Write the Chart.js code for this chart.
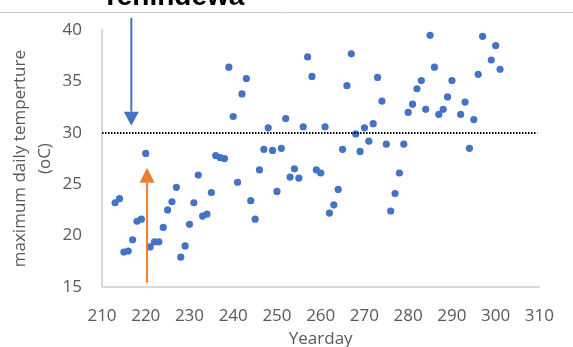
<!DOCTYPE html>
<html>
<head>
<meta charset="utf-8">
<script src="https://cdn.jsdelivr.net/npm/chart.js@4.4.1/dist/chart.umd.min.js"></script>
<style>
  html, body { margin: 0; padding: 0; background: #fff; }
  #wrap { width: 573px; height: 347px; position: relative; }
</style>
</head>
<body>
<div id="wrap"><canvas id="myChart"></canvas></div>
<script>
// DATOS: dia del año y temperatura maxima diaria
const yeardays = [213, 214, 215, 216, 217, 218, 219, 220, 221, 222,
                  223, 224, 225, 226, 227, 228, 229, 230, 231, 232,
                  233, 234, 235, 236, 237, 238, 239, 240, 241, 242,
                  243, 244, 245, 246, 247, 248, 249, 250, 251, 252,
                  253, 254, 255, 256, 257, 258, 259, 260, 261, 262,
                  263, 264, 265, 266, 267, 268, 269, 270, 271, 272,
                  273, 274, 275, 276, 277, 278, 279, 280, 281, 282,
                  283, 284, 285, 286, 287, 288, 289, 290, 292, 293,
                  294, 295, 296, 297, 299, 300, 301];
const maxTemps = [23.2, 23.6, 18.4, 18.5, 19.6, 21.4, 21.6, 28.0, 18.9, 19.4,
                  19.4, 20.8, 22.5, 23.3, 24.7, 17.9, 19.0, 21.1, 23.2, 25.9,
                  21.9, 22.1, 24.2, 27.8, 27.6, 27.5, 36.4, 31.6, 25.2, 33.8,
                  35.3, 23.4, 21.6, 26.4, 28.4, 30.5, 28.3, 24.3, 28.5, 31.4,
                  25.7, 26.5, 25.6, 30.6, 37.4, 35.5, 26.4, 26.1, 30.6, 22.2,
                  23.0, 24.5, 28.4, 34.6, 37.7, 29.9, 28.2, 30.5, 29.2, 30.9,
                  35.4, 33.1, 28.9, 22.4, 24.1, 26.1, 28.9, 32.0, 32.8, 34.3,
                  35.1, 32.3, 39.5, 36.4, 31.8, 32.3, 33.5, 35.1, 31.8, 33.0,
                  28.5, 31.3, 35.7, 39.4, 37.1, 38.5, 36.2];

// TICKS DE LOS EJES
const xTickValues = [210, 220, 230, 240, 250, 260, 270, 280, 290, 300, 310];
const yTickValues = [15, 20, 25, 30, 35, 40];

// LINEA PUNTEADA DE 30 GRADOS
const thresholdDays = [210, 309.5];
const thresholdTemp = 30;

// FLECHAS (dia, desde, hasta) en unidades del grafico
const blueArrow = [216.7, 41.2, 30.7];
const orangeArrow = [220.3, 15.4, 26.6];

const points = yeardays.map((d, i) => ({ x: d, y: maxTemps[i] }));
const thresholdPoints = thresholdDays.map(d => ({ x: d, y: thresholdTemp }));

function drawArrow(ctx, x, y0, y1, color, headW, headL) {
    const dir = Math.sign(y1 - y0);
    ctx.strokeStyle = color;
    ctx.fillStyle = color;
    ctx.lineWidth = 2;
    ctx.beginPath();
    ctx.moveTo(x, y0);
    ctx.lineTo(x, y1 - dir * headL);
    ctx.stroke();
    ctx.beginPath();
    ctx.moveTo(x, y1);
    ctx.lineTo(x - headW / 2, y1 - dir * headL);
    ctx.lineTo(x + headW / 2, y1 - dir * headL);
    ctx.closePath();
    ctx.fill();
}

// PLUGIN PARA TITULO CORTADO, LINEA SUPERIOR Y FLECHAS
const extras = {
    id: 'extras',
    afterDraw(chart) {
        const ctx = chart.ctx;
        const x = chart.scales.x, y = chart.scales.y;
        ctx.save();
        ctx.fillStyle = '#000';
        ctx.font = 'bold 28px "Liberation Sans", Arial, sans-serif';
        ctx.textAlign = 'center';
        ctx.textBaseline = 'alphabetic';
        ctx.fillText('Tenindewa', 173, 5);

        ctx.strokeStyle = '#c9c9c9';
        ctx.lineWidth = 1;
        ctx.beginPath();
        ctx.moveTo(0, 12.5);
        ctx.lineTo(573, 12.5);
        ctx.stroke();

        drawArrow(ctx, x.getPixelForValue(blueArrow[0]), y.getPixelForValue(blueArrow[1]),
                  y.getPixelForValue(blueArrow[2]), '#4472C4', 15, 14);
        drawArrow(ctx, x.getPixelForValue(orangeArrow[0]), y.getPixelForValue(orangeArrow[1]),
                  y.getPixelForValue(orangeArrow[2]), '#ED7D31', 15, 15);
        ctx.restore();
    }
};

const ctx = document.getElementById('myChart').getContext('2d');
new Chart(ctx, {
    type: 'scatter',
    data: {
        datasets: [{
            data: thresholdPoints,
            showLine: true,
            borderColor: '#000',
            borderWidth: 2,
            borderDash: [1.5, 1.5],
            pointRadius: 0,
            order: 0
        }, {
            data: points,
            backgroundColor: '#4472C4',
            borderColor: '#4472C4',
            borderWidth: 0,
            pointRadius: 3.6,
            order: 1
        }]
    },
    options: {
        responsive: true,
        maintainAspectRatio: false,
        animation: false,
        layout: { padding: { left: 0, right: 20, top: 25, bottom: 0 } },
        plugins: {
            legend: { display: false },
            tooltip: { enabled: false }
        },
        scales: {
            x: {
                type: 'linear',
                min: 210,
                max: 310,
                afterBuildTicks: s => { s.ticks = xTickValues.map(v => ({ value: v })); },
                afterFit: s => { s.height = 60; },
                grid: { display: false, drawTicks: false },
                border: { display: true, color: '#d9d9d9', width: 2 },
                ticks: {
                    color: '#595959',
                    padding: 19,
                    font: { family: '"Open Sans"', size: 17 }
                },
                title: {
                    display: true,
                    text: 'Yearday',
                    color: '#595959',
                    font: { family: '"Open Sans"', size: 17 },
                    padding: { top: 0, bottom: -2 }
                }
            },
            y: {
                min: 15,
                max: 40,
                afterBuildTicks: s => { s.ticks = yTickValues.map(v => ({ value: v })); },
                afterFit: s => { s.width = 102; },
                grid: { display: false, drawTicks: false },
                border: { display: true, color: '#d9d9d9', width: 2 },
                ticks: {
                    color: '#595959',
                    padding: 20,
                    font: { family: '"Open Sans"', size: 17 }
                },
                title: {
                    display: true,
                    text: ['maximum daily temperture', '(oC)'],
                    color: '#595959',
                    font: { family: '"Open Sans"', size: 17, lineHeight: 1.45 },
                    padding: { top: 8, bottom: 0 }
                }
            }
        }
    },
    plugins: [extras]
});
</script>
</body>
</html>
